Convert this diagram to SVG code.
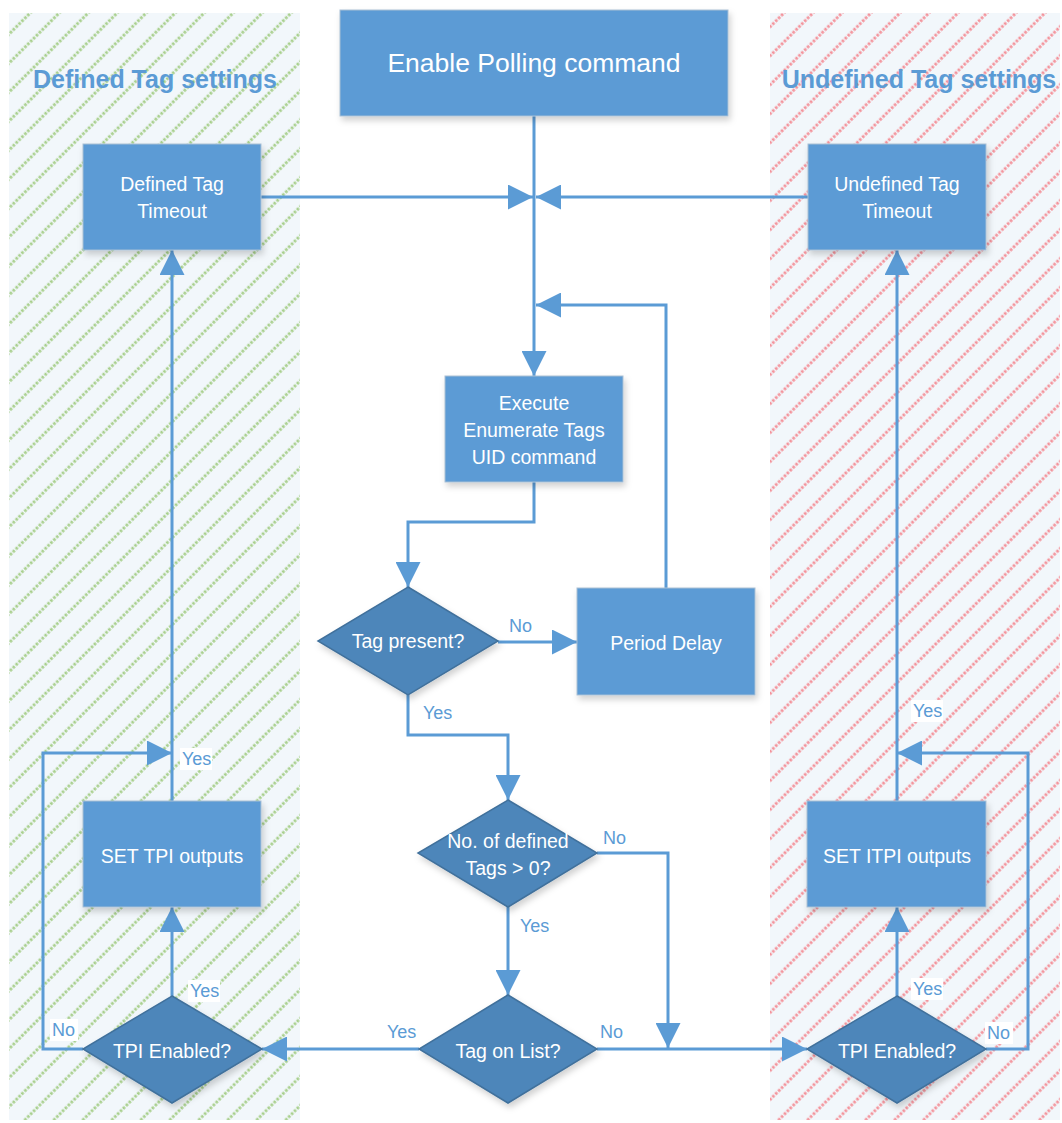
<svg xmlns="http://www.w3.org/2000/svg" width="1062" height="1123" viewBox="0 0 1062 1123">
<defs>
<pattern id="hatchG" patternUnits="userSpaceOnUse" width="20.5" height="20.5" patternTransform="rotate(-45)">
<rect width="20.5" height="20.5" fill="#f2f7fb"/>
<line x1="0" y1="10" x2="20.5" y2="10" stroke="#a9d08e" stroke-width="3" stroke-dasharray="2.6 1.5"/>
</pattern>
<pattern id="hatchR" patternUnits="userSpaceOnUse" width="20.5" height="20.5" patternTransform="rotate(-45)">
<rect width="20.5" height="20.5" fill="#f2f7fb"/>
<line x1="0" y1="10" x2="20.5" y2="10" stroke="#f4949c" stroke-width="3" stroke-dasharray="2.6 1.5"/>
</pattern>
<filter id="sh" x="-20%" y="-20%" width="150%" height="150%">
<feDropShadow dx="2" dy="4" stdDeviation="3" flood-color="#000" flood-opacity="0.18"/>
</filter>
<marker id="arr" viewBox="0 0 25 25" refX="25" refY="12.5" markerWidth="25" markerHeight="25" markerUnits="userSpaceOnUse" orient="auto">
<path d="M0,0 L25,12.5 L0,25 z" fill="#5b9bd5"/>
</marker>
</defs>
<style>
.box{fill:#5b9bd5;stroke:#a9bfd4;stroke-width:1;filter:url(#sh)}
.dia{fill:#4d86ba;stroke:#41719c;stroke-width:1.5;filter:url(#sh)}
.t{font-family:"Liberation Sans",Arial,sans-serif;fill:#ffffff;text-anchor:middle;font-size:19.5px}
.big{font-size:26.5px}
.title{font-family:"Liberation Sans",Arial,sans-serif;fill:#5b9bd5;font-weight:bold;font-size:25px;text-anchor:middle}
.lbl{font-family:"Liberation Sans",Arial,sans-serif;fill:#5b9bd5;font-size:18px}
.lb{fill:#ffffff}
.c{fill:none;stroke:#5b9bd5;stroke-width:3;marker-end:url(#arr)}
</style>

<g id="panels">
<rect x="9" y="13" width="291" height="1107" fill="url(#hatchG)"/>
<rect x="770" y="13" width="290" height="1107" fill="url(#hatchR)"/>
<text class="title" x="155" y="88">Defined Tag settings</text>
<text class="title" x="919" y="88">Undefined Tag settings</text>
</g>

<g id="connectors">
<path class="c" d="M534,116 V376"/>
<path class="c" d="M261,197 H533"/>
<path class="c" d="M808,197 H536"/>
<path class="c" d="M666,588 V305 H536"/>
<path class="c" d="M534,482 V522 H408 V587"/>
<path class="c" d="M498,642 H577"/>
<path class="c" d="M408,695 V735 H508 V800"/>
<path class="c" d="M508,907 V995"/>
<path class="c" d="M597,853 H668 V1048"/>
<path class="c" d="M597,1049 H807"/>
<path class="c" d="M419,1049 H262"/>
<path class="c" d="M172,996 V907"/>
<path class="c" d="M83,1049 H43 V753 H172"/>
<path class="c" d="M172,801 V250"/>
<path class="c" d="M897,996 V907"/>
<path class="c" d="M986,1049 H1028 V753 H897"/>
<path class="c" d="M897,801 V250"/>
</g>

<g id="labels">
<text class="lbl" x="509" y="632">No</text>
<text class="lbl" x="423" y="719">Yes</text>
<text class="lbl" x="603" y="844">No</text>
<text class="lbl" x="520" y="932">Yes</text>
<text class="lbl" x="387" y="1038">Yes</text>
<text class="lbl" x="600" y="1038">No</text>
<rect class="lb" x="188" y="980" width="32" height="22"/>
<text class="lbl" x="190" y="997">Yes</text>
<rect class="lb" x="50" y="1019" width="28" height="22"/>
<text class="lbl" x="52" y="1036">No</text>
<rect class="lb" x="180" y="748" width="32" height="22"/>
<text class="lbl" x="182" y="765">Yes</text>
<rect class="lb" x="911" y="978" width="32" height="22"/>
<text class="lbl" x="913" y="995">Yes</text>
<rect class="lb" x="985" y="1022" width="28" height="22"/>
<text class="lbl" x="987" y="1039">No</text>
<rect class="lb" x="911" y="700" width="32" height="22"/>
<text class="lbl" x="913" y="717">Yes</text>
</g>

<g id="enable">
<rect class="box" x="340" y="10" width="388" height="106"/>
<text class="t big" x="534" y="72">Enable Polling command</text>
</g>
<g id="defined-timeout">
<rect class="box" x="83" y="144" width="178" height="106"/>
<text class="t" x="172" y="191">Defined Tag</text>
<text class="t" x="172" y="218">Timeout</text>
</g>
<g id="undefined-timeout">
<rect class="box" x="808" y="144" width="178" height="106"/>
<text class="t" x="897" y="191">Undefined Tag</text>
<text class="t" x="897" y="218">Timeout</text>
</g>
<g id="execute">
<rect class="box" x="445" y="376" width="178" height="106"/>
<text class="t" x="534" y="410">Execute</text>
<text class="t" x="534" y="437">Enumerate Tags</text>
<text class="t" x="534" y="464">UID command</text>
</g>
<g id="tag-present">
<path class="dia" d="M408,587 L498,641 L408,695 L318,641 z"/>
<text class="t" x="408" y="648">Tag present?</text>
</g>
<g id="period-delay">
<rect class="box" x="577" y="588" width="178" height="107"/>
<text class="t" x="666" y="650">Period Delay</text>
</g>
<g id="num-defined">
<path class="dia" d="M508,800 L597,853 L508,907 L418,853 z"/>
<text class="t" x="508" y="848">No. of defined</text>
<text class="t" x="508" y="875">Tags &gt; 0?</text>
</g>
<g id="tag-on-list">
<path class="dia" d="M508,995 L597,1049 L508,1103 L419,1049 z"/>
<text class="t" x="508" y="1058">Tag on List?</text>
</g>
<g id="set-tpi">
<rect class="box" x="83" y="801" width="178" height="106"/>
<text class="t" x="172" y="863">SET TPI outputs</text>
</g>
<g id="tpi-enabled-left">
<path class="dia" d="M172,996 L262,1049 L172,1103 L83,1049 z"/>
<text class="t" x="172" y="1058">TPI Enabled?</text>
</g>
<g id="set-itpi">
<rect class="box" x="807" y="801" width="179" height="106"/>
<text class="t" x="897" y="863">SET ITPI outputs</text>
</g>
<g id="tpi-enabled-right">
<path class="dia" d="M897,996 L986,1049 L897,1103 L807,1049 z"/>
<text class="t" x="897" y="1058">TPI Enabled?</text>
</g>
</svg>
